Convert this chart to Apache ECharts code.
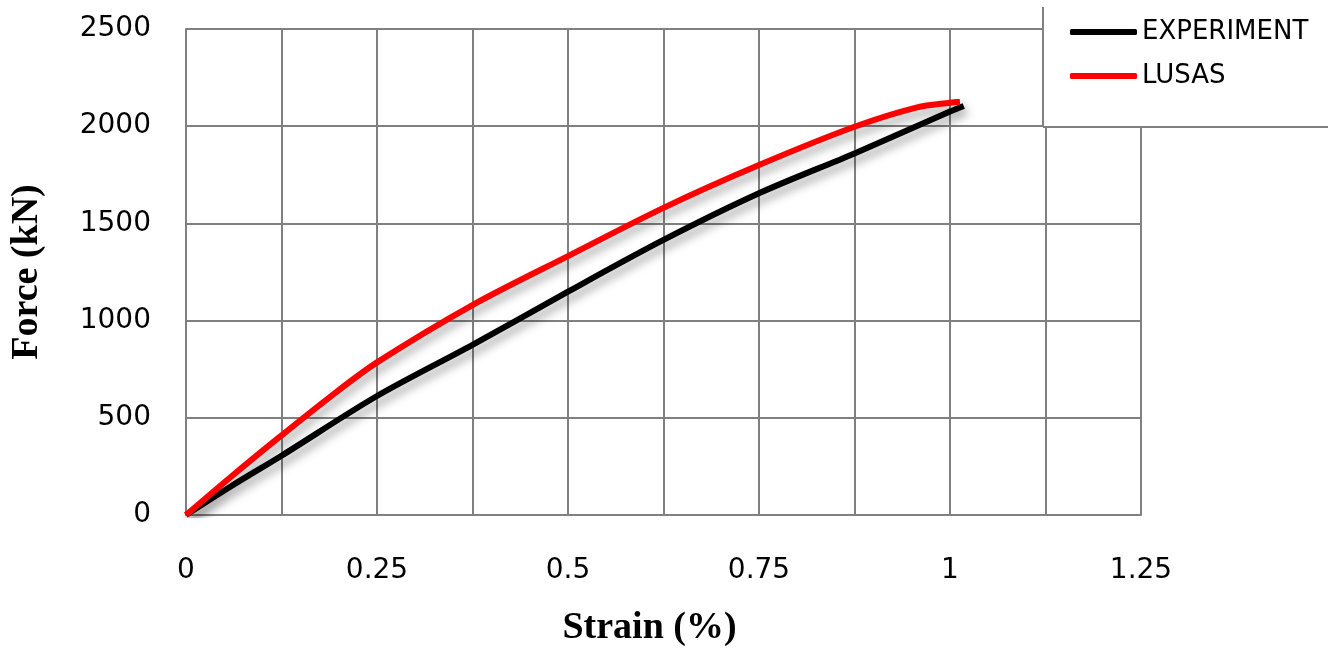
<!DOCTYPE html>
<html>
<head>
<meta charset="utf-8">
<title>Force vs Strain</title>
<script src="https://cdn.jsdelivr.net/npm/echarts@6/dist/echarts.min.js"></script>
<style>
  html, body { margin: 0; padding: 0; background: #fff; }
  #chart { width: 1328px; height: 653px; }
</style>
</head>
<body>
<div id="chart"></div>
<script>
// experiment curve
const expStrain = [0, 0.059, 0.125, 0.25, 0.375, 0.5, 0.625, 0.75, 0.875, 1.0, 1.018]
const expForce  = [0, 148, 305, 612, 875, 1149, 1415, 1655, 1860, 2075, 2104]

// LUSAS curve
const feaStrain = [0, 0.059, 0.123, 0.19, 0.25, 0.375, 0.5, 0.625, 0.75, 0.875, 0.957, 1.0, 1.013]
const feaForce  = [0, 197, 403, 612, 785, 1080, 1332, 1580, 1800, 1997, 2097, 2121, 2126]

const xTicks = [0, 0.25, 0.5, 0.75, 1, 1.25]

const toPairs = (xs, ys) => xs.map((x, i) => [x, ys[i]])

const grey = '#808080'
const shadow = {
  shadowColor: 'rgba(0, 0, 0, 0.35)',
  shadowBlur: 10,
  shadowOffsetX: 3,
  shadowOffsetY: 6
}

const chart = echarts.init(document.getElementById('chart'))

const option = {
  animation: false,
  backgroundColor: '#fff',
  grid: {
    left: 185,
    top: 29,
    right: 187,
    bottom: 138
  },
  legend: {
    orient: 'vertical',
    left: 1070,
    top: 19,
    padding: 0,
    itemGap: 18,
    itemWidth: 67,
    itemHeight: 6,
    icon: 'roundRect',
    z: 20,
    textStyle: {
      fontFamily: 'DejaVu Sans',
      fontSize: 26,
      color: '#000'
    },
    data: ['EXPERIMENT', 'LUSAS']
  },
  graphic: [
    {
      type: 'rect',
      z: 10,
      shape: { x: 1043, y: 0, width: 290, height: 127 },
      style: { fill: '#fff' }
    },
    {
      type: 'line',
      z: 11,
      shape: { x1: 1043, y1: 7, x2: 1043, y2: 127 },
      style: { stroke: grey, lineWidth: 2 }
    },
    {
      type: 'line',
      z: 11,
      shape: { x1: 1043, y1: 127, x2: 1328, y2: 127 },
      style: { stroke: grey, lineWidth: 2 }
    }
  ],
  xAxis: {
    type: 'value',
    min: 0,
    max: 1.25,
    interval: 0.125,
    name: 'Strain (%)',
    nameLocation: 'middle',
    nameGap: 94,
    nameTextStyle: {
      fontFamily: 'Liberation Serif',
      fontWeight: 'bold',
      fontSize: 38,
      color: '#000',
      padding: [0, 28, 0, 0]
    },
    axisLine: { lineStyle: { color: grey, width: 2 } },
    axisTick: { show: false },
    axisLabel: {
      margin: 42,
      fontFamily: 'DejaVu Sans',
      fontSize: 28,
      color: '#000',
      formatter: (v) => {
        const hit = xTicks.find(t => Math.abs(t - v) < 1e-6)
        return hit === undefined ? '' : String(hit)
      }
    },
    splitLine: { show: true, lineStyle: { color: grey, width: 2 } }
  },
  yAxis: {
    type: 'value',
    min: 0,
    max: 2500,
    interval: 500,
    name: 'Force (kN)',
    nameLocation: 'middle',
    nameGap: 140,
    nameTextStyle: {
      fontFamily: 'Liberation Serif',
      fontWeight: 'bold',
      fontSize: 38,
      color: '#000'
    },
    axisLine: { show: true, lineStyle: { color: grey, width: 2 } },
    axisTick: { show: false },
    axisLabel: {
      margin: 35,
      fontFamily: 'DejaVu Sans',
      fontSize: 28,
      color: '#000',
      formatter: (v) => String(v)
    },
    splitLine: { show: true, lineStyle: { color: grey, width: 2 } }
  },
  series: [
    {
      name: 'EXPERIMENT',
      type: 'line',
      data: toPairs(expStrain, expForce),
      smooth: 0.3,
      symbol: 'none',
      color: '#000000',
      lineStyle: Object.assign({ color: '#000000', width: 6 }, shadow),
      z: 3
    },
    {
      name: 'LUSAS',
      type: 'line',
      data: toPairs(feaStrain, feaForce),
      smooth: 0.3,
      symbol: 'none',
      color: '#ff0000',
      lineStyle: Object.assign({ color: '#ff0000', width: 6 }, shadow),
      z: 4
    }
  ]
}

chart.setOption(option)
</script>
</body>
</html>
